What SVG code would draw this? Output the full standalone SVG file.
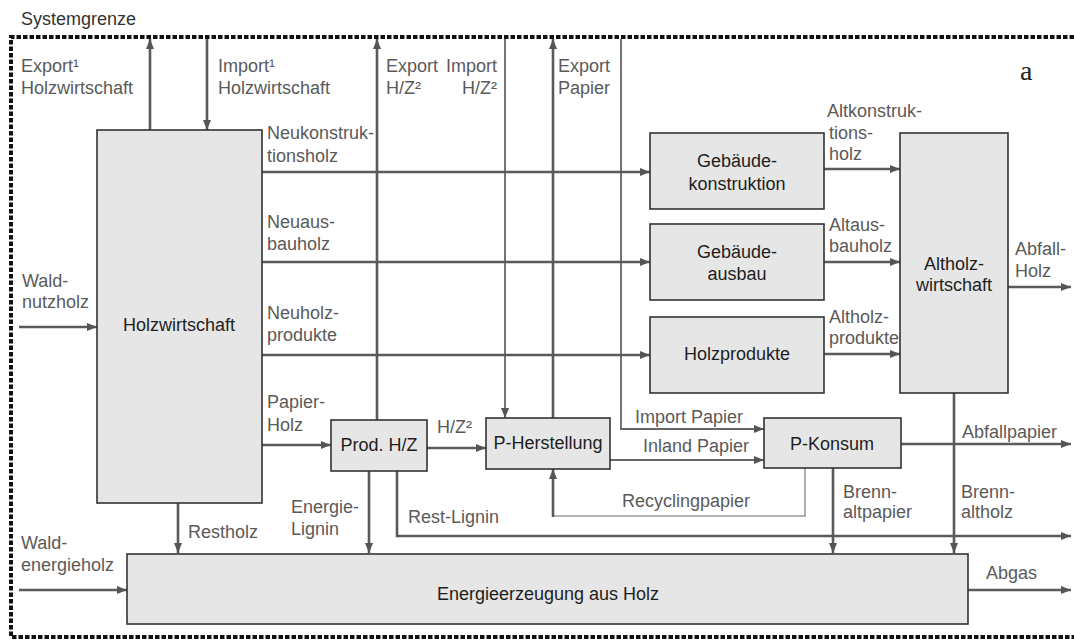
<svg xmlns="http://www.w3.org/2000/svg" width="1074" height="641" viewBox="0 0 1074 641">
<defs>
<marker id="ah" viewBox="0 0 10 8" refX="10" refY="4" markerWidth="10" markerHeight="8" markerUnits="userSpaceOnUse" orient="auto">
<path d="M0,0 L10,4 L0,8 z" fill="#555"/>
</marker>
</defs>
<style>
text{font-family:"Liberation Sans",Arial,sans-serif;font-size:18px}
.lbl{fill:#5a5a5a}
.box{fill:#e6e6e6;stroke:#333;stroke-width:1.6}
.bt{fill:#1e1e1e;text-anchor:middle}
.c{fill:none;stroke:#5a5a5a;stroke-width:2.6}
.t{fill:none;stroke:#666;stroke-width:1.8}
.r{fill:none;stroke:#9a9a9a;stroke-width:1.6}
.a{marker-end:url(#ah)}
.border{fill:none;stroke:#111;stroke-width:4;stroke-dasharray:4.5 2}
</style>
<rect width="1074" height="641" fill="#fff"/>
<text x="21" y="25" fill="#333">Systemgrenze</text>
<path class="border" d="M1074,37 L11,37 L11,637 L1074,637"/>
<text x="1020" y="80" style="font-family:'Liberation Serif','Times New Roman',serif;font-size:28px" fill="#222">a</text>

<g id="connectors">
<path class="c a" d="M150,130 L150,39"/>
<path class="c a" d="M207,39 L207,130"/>
<path class="c a" d="M377,420 L377,39"/>
<path class="t a" d="M505,39 L505,418"/>
<path class="c a" d="M553,418 L553,39"/>
<path class="t a" d="M621,39 L621,429 L764,429"/>
<path class="c a" d="M262,172 L650,172"/>
<path class="c a" d="M262,262 L650,262"/>
<path class="c a" d="M262,355 L650,355"/>
<path class="c a" d="M824,169 L900,169"/>
<path class="c a" d="M824,262 L900,262"/>
<path class="c a" d="M824,354 L900,354"/>
<path class="c a" d="M1008,287 L1071,287"/>
<path class="c a" d="M19,327 L97,327"/>
<path class="c a" d="M19,590 L127,590"/>
<path class="c a" d="M262,445 L331,445"/>
<path class="c a" d="M427,448 L486,448"/>
<path class="t a" d="M610,460 L764,460"/>
<path class="c a" d="M901,444 L1071,444"/>
<path class="c a" d="M968,590 L1071,590"/>
<path class="r" d="M805,468 L805,516 L553,516"/>
<path class="c a" d="M553,517 L553,469"/>
<path class="c a" d="M178,503 L178,553"/>
<path class="c a" d="M369,471 L369,553"/>
<path class="c a" d="M397,471 L397,536 L1071,536"/>
<path class="c a" d="M833,468 L833,553"/>
<path class="c a" d="M954,393 L954,553"/>
</g>

<g id="labels" class="lbl">
<text x="21" y="72" class="lbl">Export¹</text>
<text x="21" y="94" class="lbl">Holzwirtschaft</text>
<text x="218" y="72" class="lbl">Import¹</text>
<text x="218" y="94" class="lbl">Holzwirtschaft</text>
<text x="386" y="72" class="lbl">Export</text>
<text x="386" y="94" class="lbl">H/Z²</text>
<text x="497" y="72" class="lbl" text-anchor="end">Import</text>
<text x="497" y="94" class="lbl" text-anchor="end">H/Z²</text>
<text x="558" y="72" class="lbl">Export</text>
<text x="558" y="94" class="lbl">Papier</text>
<text x="267" y="139" class="lbl">Neukonstruk-</text>
<text x="267" y="162" class="lbl">tionsholz</text>
<text x="267" y="228" class="lbl">Neuaus-</text>
<text x="267" y="250" class="lbl">bauholz</text>
<text x="267" y="319" class="lbl">Neuholz-</text>
<text x="267" y="341" class="lbl">produkte</text>
<text x="267" y="408" class="lbl">Papier-</text>
<text x="267" y="431" class="lbl">Holz</text>
<text x="827" y="117" class="lbl">Altkonstruk-</text>
<text x="829" y="139" class="lbl">tions-</text>
<text x="829" y="160" class="lbl">holz</text>
<text x="829" y="231" class="lbl">Altaus-</text>
<text x="829" y="252" class="lbl">bauholz</text>
<text x="829" y="323" class="lbl">Altholz-</text>
<text x="829" y="344" class="lbl">produkte</text>
<text x="1015" y="255" class="lbl">Abfall-</text>
<text x="1015" y="277" class="lbl">Holz</text>
<text x="22" y="287" class="lbl">Wald-</text>
<text x="22" y="308" class="lbl">nutzholz</text>
<text x="437" y="433" class="lbl">H/Z²</text>
<text x="635" y="423" class="lbl">Import Papier</text>
<text x="643" y="452" class="lbl">Inland Papier</text>
<text x="962" y="438" class="lbl">Abfallpapier</text>
<text x="622" y="507" class="lbl">Recyclingpapier</text>
<text x="843" y="498" class="lbl">Brenn-</text>
<text x="843" y="518" class="lbl">altpapier</text>
<text x="961" y="498" class="lbl">Brenn-</text>
<text x="961" y="518" class="lbl">altholz</text>
<text x="408" y="523" class="lbl">Rest-Lignin</text>
<text x="291" y="513" class="lbl">Energie-</text>
<text x="291" y="535" class="lbl">Lignin</text>
<text x="188" y="538" class="lbl">Restholz</text>
<text x="21" y="549" class="lbl">Wald-</text>
<text x="21" y="571" class="lbl">energieholz</text>
<text x="986" y="579" class="lbl">Abgas</text>
</g>

<g id="holzwirtschaft"><rect class="box" x="97" y="130" width="165" height="373"/><text class="bt" x="179" y="331">Holzwirtschaft</text></g>
<g id="gebaeudekonstruktion"><rect class="box" x="650" y="133" width="174" height="76"/><text class="bt" x="737" y="167">Gebäude-</text><text class="bt" x="737" y="190">konstruktion</text></g>
<g id="gebaeudeausbau"><rect class="box" x="650" y="224" width="174" height="76"/><text class="bt" x="737" y="258">Gebäude-</text><text class="bt" x="737" y="280">ausbau</text></g>
<g id="holzprodukte"><rect class="box" x="650" y="317" width="174" height="76"/><text class="bt" x="737" y="360">Holzprodukte</text></g>
<g id="altholzwirtschaft"><rect class="box" x="900" y="133" width="108" height="260"/><text class="bt" x="954" y="270">Altholz-</text><text class="bt" x="954" y="291">wirtschaft</text></g>
<g id="prodhz"><rect class="box" x="331" y="420" width="96" height="51"/><text class="bt" x="379" y="451">Prod. H/Z</text></g>
<g id="pherstellung"><rect class="box" x="486" y="418" width="124" height="51"/><text class="bt" x="548" y="449">P-Herstellung</text></g>
<g id="pkonsum"><rect class="box" x="764" y="418" width="137" height="50"/><text class="bt" x="832" y="450">P-Konsum</text></g>
<g id="energie"><rect class="box" x="127" y="554" width="841" height="70"/><text class="bt" x="548" y="600">Energieerzeugung aus Holz</text></g>
</svg>
